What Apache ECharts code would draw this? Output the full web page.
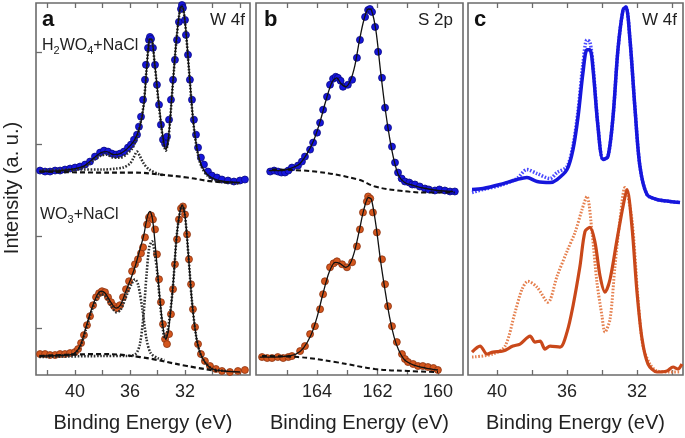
<!DOCTYPE html>
<html><head><meta charset="utf-8">
<script src="https://cdn.jsdelivr.net/npm/echarts@6/dist/echarts.min.js"></script>
<style>html,body{margin:0;padding:0;background:#fff}#c{width:685px;height:438px}</style>
</head><body><div id="c"></div>
<script>
// ---------- Panel a : W 4f, H2WO4+NaCl (blue) ----------
const aBlueDots = [[42.55,205],[42.18,204],[41.82,204],[41.45,205],[41.09,205],[40.73,206],[40.36,207],[40.0,208],[39.64,209],[39.27,211],[38.91,214],[38.55,219],[38.18,223],[37.89,225],[37.6,224],[37.31,222],[37.02,221],[36.73,222],[36.44,224],[36.15,228],[35.93,231],[35.71,236],[35.49,241],[35.35,249],[35.2,259],[35.05,276],[34.91,296],[34.84,311],[34.69,328],[34.62,336],[34.55,339],[34.47,337],[34.33,328],[34.18,311],[34.04,291],[33.89,271],[33.75,251],[33.6,236],[33.45,232],[33.31,239],[33.16,256],[33.02,276],[32.87,296],[32.73,316],[32.58,336],[32.44,354],[32.29,367],[32.22,371],[32.15,368],[32.0,356],[31.93,341],[31.78,321],[31.64,296],[31.49,276],[31.35,256],[31.2,241],[31.05,228],[30.84,218],[30.62,211],[30.33,204],[30.04,200],[29.67,198],[29.31,196],[28.87,195],[28.44,194],[28.0,195],[27.64,196]];
const aBlueFit = [[42.6,204],[41,205],[40,207],[39.3,210],[38.6,218],[38.1,223],[37.7,224],[37.2,221],[36.7,222],[36.2,227],[35.7,235],[35.3,248],[35.0,270],[34.8,305],[34.6,336],[34.45,337],[34.2,312],[33.9,272],[33.6,238],[33.4,226],[33.2,238],[32.9,290],[32.6,340],[32.35,368],[32.2,370],[32.0,355],[31.7,305],[31.4,255],[31.1,225],[30.8,210],[30.3,200],[29.5,195],[28,193]];
const aBlueCompMain = [[42.6,204],[41,205],[40,206],[39.3,209],[38.6,216],[38.1,220],[37.7,221],[37.2,218],[36.7,218],[36.2,222],[35.8,228],[35.5,238],[35.25,252],[35.0,272],[34.8,306],[34.6,336],[34.45,337],[34.2,311],[33.9,270],[33.6,236],[33.4,225],[33.2,237],[32.9,289],[32.6,339],[32.35,367],[32.2,369],[32.0,354],[31.7,304],[31.4,254],[31.1,224],[30.8,209],[30.3,199],[29.5,194],[28,192]];
const aBlueCompMinor = [[42.6,205],[40,206],[38,206],[37,207],[36.5,208],[36.0,212],[35.7,219],[35.5,224],[35.3,220],[35.0,212],[34.6,206],[34.0,202],[33.5,200]];
const aBlueBackground = [[42.55,204],[38.18,203],[35.78,203],[33.82,201],[31.85,198],[29.96,194],[28.51,193]];

// ---------- Panel a : W 4f, WO3+NaCl (orange) ----------
const aOrangeDots = [[42.55,21],[42.18,21],[41.82,20],[41.45,20],[41.09,21],[40.73,21],[40.36,22],[40.0,23],[39.78,26],[39.56,32],[39.35,40],[39.13,50],[38.91,59],[38.69,70],[38.47,78],[38.25,82],[38.04,84],[37.82,83],[37.6,78],[37.38,73],[37.16,69],[36.95,67],[36.73,70],[36.51,78],[36.29,86],[36.07,94],[35.85,104],[35.64,111],[35.42,116],[35.2,122],[35.05,128],[34.91,138],[34.76,151],[34.62,158],[34.47,160],[34.33,156],[34.18,146],[34.04,121],[33.89,96],[33.75,73],[33.6,51],[33.45,36],[33.31,31],[33.16,41],[33.02,61],[32.87,86],[32.73,111],[32.58,136],[32.44,156],[32.29,167],[32.15,169],[32.0,161],[31.85,141],[31.71,116],[31.56,91],[31.42,66],[31.27,48],[31.05,31],[30.84,21],[30.55,14],[30.18,9],[29.75,6],[29.31,4],[28.73,3],[28.15,4],[27.64,5]];
const aOrangeFit = [[42.6,19],[40.5,20],[40,22],[39.6,30],[39.2,48],[38.8,66],[38.4,80],[38.1,84],[37.8,82],[37.4,73],[37.0,67],[36.7,70],[36.3,84],[35.9,98],[35.6,110],[35.3,125],[35.0,140],[34.75,158],[34.55,164],[34.35,155],[34.1,120],[33.85,80],[33.6,48],[33.4,36],[33.2,45],[32.9,85],[32.6,140],[32.35,165],[32.2,170],[32.0,160],[31.75,120],[31.5,75],[31.2,40],[30.9,22],[30.5,12],[30,6],[29.2,4],[28,3]];
const aOrangeCompMinor = [[42.6,19],[40.5,20],[40,22],[39.6,29],[39.2,46],[38.8,64],[38.4,77],[38.1,81],[37.8,79],[37.4,70],[37.0,63],[36.7,65],[36.3,78],[35.9,91],[35.64,96],[35.4,90],[35.1,66],[34.8,36],[34.5,22],[34.0,17],[33.5,15]];
const aOrangeCompMain = [[42.6,18],[38,19],[36.3,19],[35.6,21],[35.3,30],[35.05,55],[34.8,100],[34.6,128],[34.4,134],[34.2,122],[34.0,100],[33.8,70],[33.6,45],[33.45,36],[33.25,45],[32.9,85],[32.6,140],[32.35,165],[32.2,170],[32.0,160],[31.75,120],[31.5,75],[31.2,40],[30.9,22],[30.5,12],[30,6],[29,4]];
const aOrangeBackground = [[42.55,19],[38.18,21],[35.27,18],[31.85,9],[29.67,4]];

// ---------- Panel b : S 2p ----------
const bBlueDots = [[165.55,204],[165.42,205],[165.29,204],[165.18,203],[165.06,203],[164.95,205],[164.83,208],[164.63,210],[164.5,214],[164.40,219],[164.23,226],[164.13,233],[164.0,243],[163.90,253],[163.80,266],[163.67,279],[163.57,291],[163.47,297],[163.38,299],[163.31,298],[163.22,295],[163.14,289],[162.98,291],[162.84,296],[162.68,318],[162.58,336],[162.41,359],[162.31,366],[162.25,367],[162.18,364],[162.08,349],[161.98,324],[161.85,298],[161.75,268],[161.65,248],[161.52,229],[161.42,213],[161.32,203],[161.2,197],[161.09,194],[160.95,193],[160.85,191],[160.76,191],[160.6,189],[160.43,187],[160.3,186],[160.10,185],[159.95,186],[159.77,185],[159.6,184],[159.44,184]];
const bBlueFit = [[165.6,205],[165.2,205],[164.9,207],[164.6,211],[164.35,221],[164.1,236],[163.9,254],[163.7,276],[163.5,294],[163.35,298],[163.2,292],[163.05,289],[162.9,295],[162.75,310],[162.6,335],[162.45,356],[162.3,367],[162.2,366],[162.05,345],[161.9,305],[161.75,268],[161.6,238],[161.45,215],[161.3,200],[161.1,193],[160.8,190],[160.4,187],[160,185],[159.5,184]];
const bBlueBackground = [[165.49,206],[164.07,204],[162.64,196],[162.08,189],[161.32,185],[160.43,183],[159.44,183]];
const bOrangeDots = [[165.82,18],[165.65,17],[165.49,17],[165.3,18],[165.12,17],[164.95,18],[164.83,19],[164.56,24],[164.40,29],[164.23,41],[164.07,49],[163.90,66],[163.80,81],[163.74,94],[163.57,108],[163.45,112],[163.34,114],[163.17,111],[163.01,108],[162.84,113],[162.68,129],[162.58,146],[162.48,163],[162.35,174],[162.31,179],[162.24,177],[162.15,163],[162.02,143],[161.85,116],[161.75,91],[161.65,69],[161.52,49],[161.36,33],[161.19,21],[161.09,16],[160.99,13],[160.82,11],[160.66,9],[160.5,9],[160.33,8],[160.15,7],[160.0,5]];
const bOrangeFit = [[165.9,18],[165.4,18],[165,19],[164.7,21],[164.45,27],[164.2,40],[164.0,58],[163.8,82],[163.6,103],[163.4,113],[163.25,112],[163.05,108],[162.9,112],[162.75,125],[162.6,145],[162.45,166],[162.3,178],[162.2,176],[162.05,150],[161.9,115],[161.75,85],[161.6,58],[161.45,38],[161.3,25],[161.1,15],[160.8,10],[160.4,7],[160,5]];
const bOrangeBackground = [[165.82,19],[164.63,18],[163.40,13],[162.08,6],[160.99,4],[160.0,3]];

// ---------- Panel c : W 4f comparison ----------
const cBlueSolid = [[41.43,186],[40.8,187],[39.83,191],[38.86,196],[38.29,198],[37.71,194],[36.97,193],[36.57,196],[36.0,206],[35.66,226],[35.37,259],[35.09,303],[34.86,326],[34.69,326],[34.51,306],[34.23,249],[33.94,216],[33.66,219],[33.37,259],[33.09,326],[32.8,366],[32.63,369],[32.4,336],[32.11,266],[31.83,209],[31.43,181],[30.86,176],[30.11,174],[29.54,173]];
const cBlueDotted = [[41.43,183],[40.8,186],[39.83,190],[38.86,197],[38.29,206],[37.71,202],[36.97,197],[36.57,203],[36.0,209],[35.66,230],[35.37,265],[35.09,312],[34.86,336],[34.69,334],[34.51,310],[34.23,250],[33.94,216],[33.66,219],[33.37,259],[33.09,326],[32.8,366],[32.63,369],[32.4,336],[32.11,266],[31.83,209],[31.43,181],[30.86,176],[30.11,174],[29.54,173]];
const cOrangeSolid = [[41.43,23],[40.97,29],[40.57,21],[40.23,23],[39.66,24],[39.09,29],[38.69,31],[38.11,39],[37.83,33],[37.54,34],[37.26,26],[36.97,29],[36.4,28],[36.0,43],[35.66,69],[35.26,109],[34.97,144],[34.69,148],[34.4,133],[34.11,99],[33.83,83],[33.54,96],[33.14,136],[32.8,169],[32.57,186],[32.29,149],[32.0,83],[31.71,36],[31.37,11],[30.86,3],[30.29,4],[29.94,8],[29.66,6],[29.43,11]];
const cOrangeDotted = [[41.43,18],[40.23,21],[39.54,29],[38.97,63],[38.57,86],[38.23,94],[37.71,88],[37.09,73],[36.57,99],[36.0,124],[35.54,143],[35.14,166],[34.86,179],[34.57,143],[34.29,93],[34.0,59],[33.83,43],[33.54,56],[33.26,109],[32.97,156],[32.69,188],[32.29,156],[31.94,76],[31.66,29],[31.26,11],[30.86,4],[30.11,3],[29.54,3]];

// ---------- axes / ticks / labels ----------
const aTickValues = [42,40,38,36,34,32,30,28];
const aLabelValues = [40,36,32];
const bTickValues = [165,164,163,162,161,160];
const bLabelValues = [164,162,160];
const cTickValues = [40,38,36,34,32,30];
const cLabelValues = [40,36,32];
const aYTickValues = [47,139,231,324];
const xTitle = 'Binding Energy (eV)';
const yTitle = 'Intensity (a. u.)';

const BLUE = '#1616dc', ORANGE = '#d4561d', BORDER = '#6b6b6b';
const FONT = "'Liberation Sans', Arial, sans-serif";

const grids = [
  {left: 36, top: 3, width: 214, height: 373},
  {left: 256, top: 3, width: 207, height: 373},
  {left: 468, top: 3, width: 215, height: 373}
].map(g => Object.assign(g, {show: true, borderColor: BORDER, borderWidth: 1.6, containLabel: false}));

const ranges = [[27.27, 42.84], [159.17, 166.02], [29.37, 41.66]];
const ticks = [aTickValues, bTickValues, cTickValues];
const labels = [aLabelValues, bLabelValues, cLabelValues];

const xAxes = [];
for (let i = 0; i < 3; i++) {
  xAxes.push({
    type: 'value', gridIndex: i, inverse: true, min: ranges[i][0], max: ranges[i][1], position: 'bottom',
    axisLine: {show: false},
    axisTick: {show: true, inside: true, length: 5, customValues: ticks[i], lineStyle: {color: BORDER, width: 1.3}},
    axisLabel: {show: true, customValues: labels[i], fontSize: 18, color: '#222', fontFamily: FONT, margin: 8},
    splitLine: {show: false},
    name: xTitle, nameLocation: 'middle', nameGap: 38,
    nameTextStyle: {fontSize: 20, color: '#222', fontFamily: FONT}
  });
  xAxes.push({
    type: 'value', gridIndex: i, inverse: true, min: ranges[i][0], max: ranges[i][1], position: 'top',
    axisLine: {show: false},
    axisTick: {show: true, inside: true, length: 5, customValues: ticks[i], lineStyle: {color: BORDER, width: 1.3}},
    axisLabel: {show: false}, splitLine: {show: false}
  });
}
const yAxes = [0,1,2].map(i => ({
  type: 'value', gridIndex: i, min: 0, max: 373,
  axisLine: {show: false}, axisLabel: {show: false}, splitLine: {show: false},
  axisTick: i === 0 ? {show: true, inside: true, length: 6, customValues: aYTickValues, lineStyle: {color: BORDER, width: 1.3}} : {show: false}
}));

function dots(data, axis, color, edge) {
  return {type: 'scatter', xAxisIndex: axis * 2, yAxisIndex: axis, data, symbolSize: 7, z: 2,
    itemStyle: {color, opacity: 1, borderColor: edge, borderWidth: 0.8}};
}
function line(data, axis, color, width, type, smooth, z) {
  return {type: 'line', xAxisIndex: axis * 2, yAxisIndex: axis, data, showSymbol: false, smooth: smooth,
    z: z || 3, lineStyle: {color, width, type}};
}
const DOT = [1.6, 1.6];
const COMP = '#2e2e2e';
const series = [
  dots(aBlueDots, 0, BLUE, '#0a0a80'),
  line(aBlueCompMinor, 0, COMP, 2.6, DOT, 0.3),
  line(aBlueCompMain, 0, COMP, 2.6, DOT, 0.3),
  line(aBlueBackground, 0, '#111', 2.2, [5, 3], 0.4),
  line(aBlueFit, 0, '#111', 1.3, 'solid', 0.3, 4),
  dots(aOrangeDots, 0, ORANGE, '#8a3210'),
  line(aOrangeCompMinor, 0, COMP, 2.6, DOT, 0.3),
  line(aOrangeCompMain, 0, COMP, 2.6, DOT, 0.3),
  line(aOrangeBackground, 0, '#111', 2.2, [5, 3], 0.4),
  line(aOrangeFit, 0, '#111', 1.3, 'solid', 0.3, 4),
  dots(bBlueDots, 1, BLUE, '#0a0a80'),
  line(bBlueBackground, 1, '#111', 2, [5, 3], 0.4),
  line(bBlueFit, 1, '#111', 1.3, 'solid', 0.3, 4),
  dots(bOrangeDots, 1, ORANGE, '#8a3210'),
  line(bOrangeBackground, 1, '#111', 2, [5, 3], 0.4),
  line(bOrangeFit, 1, '#111', 1.3, 'solid', 0.3, 4),
  line(cBlueDotted, 2, '#4a4aff', 3.5, DOT, 0.3),
  line(cBlueSolid, 2, BLUE, 3.5, 'solid', 0.3, 4),
  line(cOrangeDotted, 2, '#e5804f', 3, DOT, 0.3),
  line(cOrangeSolid, 2, '#c9481a', 3.2, 'solid', 0.3, 4)
];

function txt(x, y, text, size, opts) {
  return Object.assign({type: 'text', x, y, z: 10, style: Object.assign({text, fontSize: size, fontFamily: FONT, fill: '#222', verticalAlign: 'middle'}, opts || {})});
}
const sub = {s: {fontSize: 11, fontFamily: FONT, fill: '#222', padding: [9, 0, 0, 0]}};
const graphics = [
  txt(42, 20, 'a', 22, {fontWeight: 'bold', fill: '#111'}),
  txt(245, 20, 'W 4f', 17, {align: 'right'}),
  txt(42, 46, 'H{s|2}WO{s|4}+NaCl', 16, {rich: sub}),
  txt(40, 215, 'WO{s|3}+NaCl', 16, {rich: sub}),
  txt(264, 20, 'b', 22, {fontWeight: 'bold', fill: '#111'}),
  txt(453, 20, 'S 2p', 17, {align: 'right'}),
  txt(474, 20, 'c', 22, {fontWeight: 'bold', fill: '#111'}),
  txt(677, 20, 'W 4f', 17, {align: 'right'}),
  {type: 'text', x: 12, y: 188, rotation: Math.PI / 2, z: 10,
   style: {text: yTitle, fontSize: 20, fontFamily: FONT, fill: '#222', align: 'center', verticalAlign: 'middle'}}
];

const chart = echarts.init(document.getElementById('c'), null, {renderer: 'canvas'});
chart.setOption({
  animation: false, backgroundColor: '#fff',
  grid: grids, xAxis: xAxes, yAxis: yAxes, series, graphic: graphics
});
</script></body></html>
